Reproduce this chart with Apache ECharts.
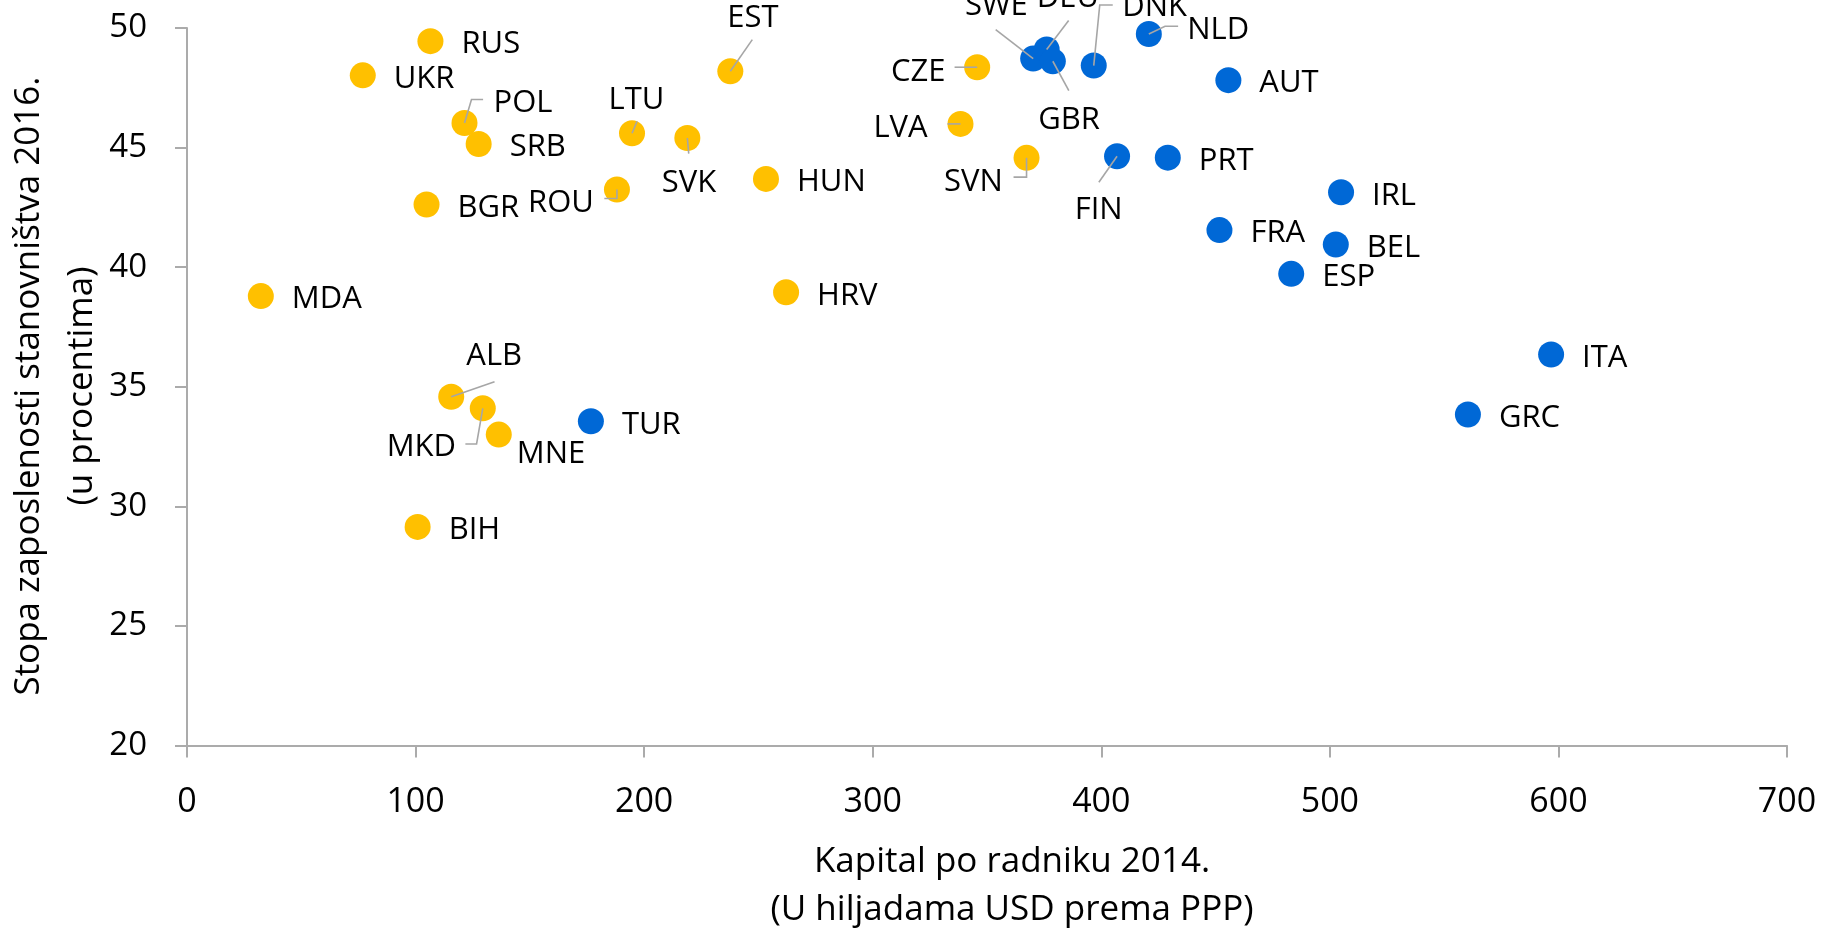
<!DOCTYPE html>
<html>
<head>
<meta charset="utf-8">
<script src="https://cdn.jsdelivr.net/npm/echarts@6/dist/echarts.min.js"></script>
<style>
  html, body { margin: 0; padding: 0; background: #ffffff; }
  #chart { width: 1822px; height: 928px; }
</style>
</head>
<body>
<div id="chart"></div>
<script>
// Country codes, capital per worker 2014 (thousand USD, PPP) and employment rate 2016 (%)
const countries = ['RUS','UKR','POL','SRB','BGR','MDA','LTU','SVK','ROU','EST','HUN','HRV','CZE','LVA','SVN','ALB','MKD','MNE','BIH',
                   'SWE','DEU','GBR','DNK','NLD','AUT','FIN','PRT','IRL','FRA','BEL','ESP','ITA','GRC','TUR'];
const capitalPerWorker = [106.5, 76.9, 121.4, 127.6, 104.8, 32.3, 194.7, 218.9, 188.1, 237.7, 253.3, 262.1, 345.7, 338.4, 367.3, 115.6, 129.4, 136.4, 100.9,
                          370.2, 376.1, 378.8, 396.7, 420.8, 455.6, 406.9, 429.1, 504.9, 451.7, 502.6, 483.1, 596.8, 560.4, 176.7];
const employmentRate = [49.45, 48.02, 46.03, 45.15, 42.62, 38.79, 45.60, 45.40, 43.25, 48.19, 43.69, 38.95, 48.36, 45.99, 44.57, 34.58, 34.10, 33.00, 29.14,
                        48.72, 49.10, 48.61, 48.43, 49.75, 47.82, 44.64, 44.58, 43.13, 41.55, 40.95, 39.72, 36.35, 33.84, 33.56];
// 'E' = emerging Europe, 'A' = advanced economies and Turkey
const groups = ['E','E','E','E','E','E','E','E','E','E','E','E','E','E','E','E','E','E','E',
                'A','A','A','A','A','A','A','A','A','A','A','A','A','A','A'];

const xTicks = { min: 0, max: 700, step: 100 };
const yTicks = { min: 20, max: 50, step: 5 };

// Label placement in pixels relative to each marker: anchor offset, text alignment and optional leader polyline
const LABEL_SHIFT = 3.5;
const DEF = { dx: 31, dy: 0, align: 'left' };
const labelPlacement = {
  MNE: { dx: 18, dy: 16, align: 'left' },
  POL: { dx: 29, dy: -23, align: 'left', leader: [[0,0],[7,-23.4],[18.6,-23.4]] },
  ROU: { dx: -23, dy: 10, align: 'right', leader: [[0,0],[0,9],[-12.6,9]] },
  EST: { dx: 22.7, dy: -57, align: 'center', leader: [[0,0],[22,-31.7]] },
  LTU: { dx: 4.5, dy: -37, align: 'center', leader: [[0,0],[5,-12]] },
  SVK: { dx: 1.7, dy: 41.5, align: 'center', leader: [[0,0],[1.4,15.6]] },
  CZE: { dx: -31.6, dy: 1, align: 'right', leader: [[0,0],[-22.6,0]] },
  LVA: { dx: -32.8, dy: 1, align: 'right', leader: [[0,0],[-13,0]] },
  SVN: { dx: -23.8, dy: 20.5, align: 'right', leader: [[0,0],[0,19.3],[-13,19.3]] },
  SWE: { dx: -36.8, dy: -55.5, align: 'center', leader: [[0,0],[-37.5,-29]] },
  DEU: { dx: 21.3, dy: -54.5, align: 'center', leader: [[0,0],[22,-29]] },
  GBR: { dx: 16.3, dy: 55, align: 'center', leader: [[0,0],[16,29.3]] },
  DNK: { dx: 28.5, dy: -61.5, align: 'left', leader: [[0,0],[6,-60.6],[19,-60.6]] },
  NLD: { dx: 38.3, dy: -7, align: 'left', leader: [[0,0],[16.2,-7.7],[29.3,-7.7]] },
  FIN: { dx: -18.4, dy: 50.5, align: 'center', leader: [[0,0],[-18.2,26]] },
  ALB: { dx: 43, dy: -44, align: 'center', leader: [[0,0],[43.3,-15]] },
  MKD: { dx: -26.7, dy: 35.5, align: 'right', leader: [[0,0],[-6.2,35.7],[-17.4,35.7]] }
};

const FONT = '"Open Sans", "Noto Sans", sans-serif';
const YELLOW = '#FFC000';
const BLUE = '#0068D6';
const AXIS_GREY = '#ABABAB';

function groupData(g) {
  const out = [];
  countries.forEach((c, i) => {
    if (groups[i] === g) out.push([capitalPerWorker[i], employmentRate[i], c]);
  });
  return out;
}

const labelData = countries.map((c, i) => [capitalPerWorker[i], employmentRate[i], c]);

const chart = echarts.init(document.getElementById('chart'), null, { renderer: 'canvas' });

chart.setOption({
  animation: false,
  backgroundColor: '#ffffff',
  grid: { left: 187, right: 35, top: 28, bottom: 182.5, containLabel: false },
  xAxis: {
    type: 'value',
    min: xTicks.min, max: xTicks.max, interval: xTicks.step,
    splitLine: { show: false },
    axisLine: { show: true, onZero: false, lineStyle: { color: AXIS_GREY, width: 2 } },
    axisTick: { show: true, inside: false, length: 12, lineStyle: { color: AXIS_GREY, width: 2 } },
    axisLabel: { color: '#000', fontFamily: FONT, fontSize: 34, margin: 40 }
  },
  yAxis: {
    type: 'value',
    min: yTicks.min, max: yTicks.max, interval: yTicks.step,
    splitLine: { show: false },
    axisLine: { show: true, onZero: false, lineStyle: { color: AXIS_GREY, width: 2 } },
    axisTick: { show: true, inside: false, length: 12, lineStyle: { color: AXIS_GREY, width: 2 } },
    axisLabel: { color: '#000', fontFamily: FONT, fontSize: 33, margin: 40 }
  },
  graphic: [
    { type: 'text', x: 1012, y: 862, z: 10,
      style: { text: 'Kapital po radniku 2014.', font: '35px ' + FONT, fill: '#000', textAlign: 'center', textVerticalAlign: 'middle' } },
    { type: 'text', x: 1012, y: 910, z: 10,
      style: { text: '(U hiljadama USD prema PPP)', font: '35px ' + FONT, fill: '#000', textAlign: 'center', textVerticalAlign: 'middle' } },
    { type: 'text', x: 29, y: 386, rotation: Math.PI / 2, z: 10,
      style: { text: 'Stopa zaposlenosti stanovništva 2016.', font: '35px ' + FONT, fill: '#000', textAlign: 'center', textVerticalAlign: 'middle' } },
    { type: 'text', x: 82, y: 386, rotation: Math.PI / 2, z: 10,
      style: { text: '(u procentima)', font: '35px ' + FONT, fill: '#000', textAlign: 'center', textVerticalAlign: 'middle' } }
  ],
  series: [
    {
      name: 'Emerging',
      type: 'scatter',
      symbol: 'circle',
      symbolSize: 26,
      itemStyle: { color: YELLOW, opacity: 1 },
      data: groupData('E'),
      z: 2
    },
    {
      name: 'Advanced',
      type: 'scatter',
      symbol: 'circle',
      symbolSize: 26,
      itemStyle: { color: BLUE, opacity: 1 },
      data: groupData('A'),
      z: 2
    },
    {
      name: 'Labels',
      type: 'custom',
      clip: false,
      z: 5,
      silent: true,
      data: labelData,
      encode: { x: 0, y: 1 },
      renderItem: function (params, api) {
        const name = labelData[params.dataIndex][2];
        const p = api.coord([api.value(0), api.value(1)]);
        const pl = labelPlacement[name] || DEF;
        const children = [];
        if (pl.leader) {
          children.push({
            type: 'polyline',
            shape: { points: pl.leader.map(o => [p[0] + o[0], p[1] + o[1]]) },
            style: { stroke: '#A6A6A6', lineWidth: 1.6, fill: null }
          });
        }
        children.push({
          type: 'text',
          x: p[0] + pl.dx,
          y: p[1] + pl.dy + LABEL_SHIFT,
          style: {
            text: name,
            font: '31px ' + FONT,
            fill: '#000',
            textAlign: pl.align,
            textVerticalAlign: 'middle'
          }
        });
        return { type: 'group', children: children };
      }
    }
  ]
});
</script>
</body>
</html>
